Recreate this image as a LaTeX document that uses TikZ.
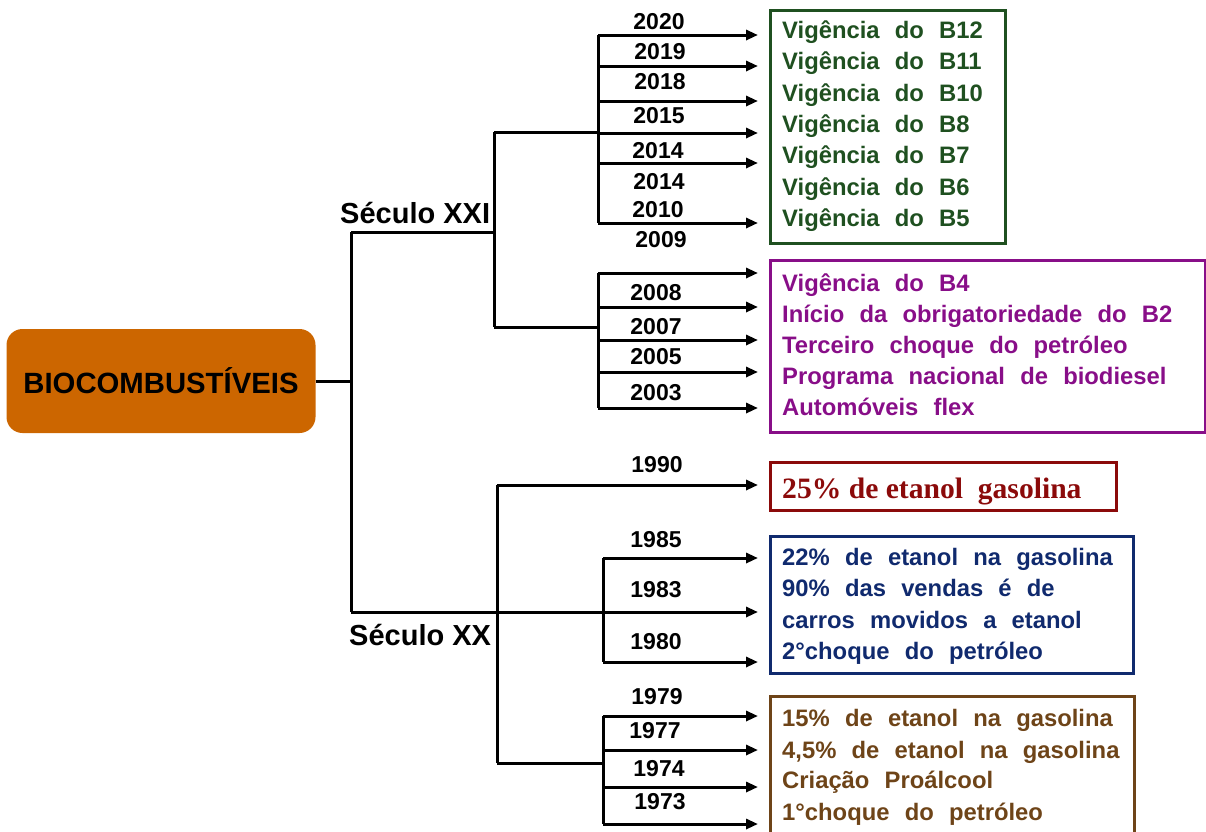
\documentclass[tikz,border=0pt]{standalone}
\usepackage{fontspec}
\setmainfont{Liberation Sans}
\newfontfamily\boxfont[WordSpace=2.3]{Liberation Sans}
\newfontfamily\serifbox{Liberation Serif}
\usetikzlibrary{arrows.meta}
\definecolor{rootfill}{HTML}{CC6600}
\definecolor{grn}{HTML}{1F5020}
\definecolor{prp}{HTML}{880E88}
\definecolor{dred}{HTML}{8B0A0A}
\definecolor{navy}{HTML}{102A6E}
\definecolor{brn}{HTML}{6E4418}
\begin{document}
\begin{tikzpicture}[x=1pt,y=-1pt,
  line/.style={line width=3pt},
  arr/.style={line width=3pt,-{Triangle[length=12pt,width=10pt]}},
  year/.style={font=\bfseries\fontsize{23}{23}\selectfont, inner sep=0pt},
  century/.style={font=\bfseries\fontsize{29}{29}\selectfont, inner sep=0pt, anchor=base west},
  frame/.style={draw, line width=2.5pt, anchor=north west, inner sep=0pt},
  txt/.style={font=\boxfont\bfseries\fontsize{23.8}{23.8}\selectfont, inner sep=0pt, anchor=base west}]
\useasboundingbox (0,0) rectangle (1206,831);

% root
\node[fill=rootfill, rounded corners=16pt, minimum width=309pt, minimum height=104pt, inner sep=0pt,
      font=\bfseries\fontsize{29.3}{29.3}\selectfont] (root) at (161,381) {BIOCOMBUSTÍVEIS};

% century labels
\node[century] (s21) at (340,223) {Século XXI};
\node[century] (s20) at (349,645) {Século XX};

% trunk coordinates
\coordinate (j) at (351,381);
\coordinate (t1) at (351,232);
\coordinate (t2) at (351,612);
\coordinate (a1) at (494,232);
\coordinate (a2) at (494,132);
\coordinate (a3) at (494,327);
\coordinate (gv) at (598,132);
\coordinate (pv) at (598,327);
\coordinate (b1) at (497,612);
\coordinate (b2) at (497,485);
\coordinate (b3) at (497,763);
\coordinate (bv) at (603,612);
\coordinate (brv) at (603,763);

\draw[line] (root) -- (j);
\draw[line] (t1) -- (t2);
\draw[line] (t1) -- (a1);
\draw[line] (a2) -- (a3);
\draw[line] (a2) -- (gv);
\draw[line] (a3) -- (pv);
\draw[line] (t2) -- (b1);
\draw[line] (b2) -- (b3);
\draw[line] (b3) -- (brv);

% green group
\coordinate (gtop) at (598,35);
\coordinate (gbot) at (598,223);
\draw[line] (gtop) -- (gbot);
\foreach \y [count=\i] in {35,66,101,133,163,223}{
  \coordinate (gs\i) at (598,\y);
  \coordinate (ge\i) at (758,\y);
  \draw[arr] (gs\i) -- (ge\i);
}
\foreach \t/\x/\y [count=\i] in {2020/659/21.5,2019/660/51.5,2018/660/82,2015/659/116,2014/658/150.5,2014/659/182,2010/658/210,2009/661/240}{
  \node[year] (gy\i) at (\x,\y) {\t};
}
\node[frame, draw=grn, minimum width=235pt, minimum height=233pt] (gbox) at (769,9) {};
\foreach \t/\y [count=\i] in {B12/38.5,B11/69.8,B10/101.1,B8/132.4,B7/163.7,B6/195,B5/226.3}{
  \node[txt, text=grn] (gt\i) at (782,\y) {Vigência do \t};
}

% purple group
\coordinate (ptop) at (598,273);
\coordinate (pbot) at (598,408);
\draw[line] (ptop) -- (pbot);
\foreach \y [count=\i] in {273,307,340,372,408}{
  \coordinate (ps\i) at (598,\y);
  \coordinate (pe\i) at (758,\y);
  \draw[arr] (ps\i) -- (pe\i);
}
\foreach \t/\y [count=\i] in {2008/293,2007/327,2005/357,2003/393}{
  \node[year] (py\i) at (656,\y) {\t};
}
\node[frame, draw=prp, minimum width=435pt, minimum height=172pt] (pbox) at (769,259) {};
\foreach \t/\y [count=\i] in {Vigência do B4/291,Início da obrigatoriedade do B2/322,Terceiro choque do petróleo/353,Programa nacional de biodiesel/384,Automóveis flex/415}{
  \node[txt, text=prp] (pt\i) at (782,\y) {\t};
}

% 1990
\coordinate (re) at (758,485);
\draw[arr] (b2) -- (re);
\node[year] (ry) at (657,465) {1990};
\node[frame, draw=dred, minimum width=346pt, minimum height=48pt] (rbox) at (769,461) {};
\node[font=\serifbox\bfseries\fontsize{29.6}{29.6}\selectfont, text=dred, inner sep=0pt, anchor=base west] (rt) at (782,498) {25\% de etanol\ \ gasolina};

% blue group
\coordinate (btop) at (603,558);
\coordinate (bbot) at (603,662);
\draw[line] (btop) -- (bbot);
\coordinate (be2) at (758,612);
\draw[arr] (b1) -- (be2);
\foreach \y [count=\i] in {558,662}{
  \coordinate (bs\i) at (603,\y);
  \coordinate (bf\i) at (758,\y);
  \draw[arr] (bs\i) -- (bf\i);
}
\foreach \t/\y [count=\i] in {1985/540,1983/590,1980/642}{
  \node[year] (by\i) at (656,\y) {\t};
}
\node[frame, draw=navy, minimum width=363pt, minimum height=137pt] (bbox) at (769,535) {};
\foreach \t/\y [count=\i] in {22\% de etanol na gasolina/565,90\% das vendas é de/596,carros movidos a etanol/628,2°choque do petróleo/659}{
  \node[txt, text=navy] (bt\i) at (782,\y) {\t};
}

% brown group
\coordinate (wtop) at (603,716);
\coordinate (wbot) at (603,824);
\draw[line] (wtop) -- (wbot);
\foreach \y [count=\i] in {716,750,787,824}{
  \coordinate (ws\i) at (603,\y);
  \coordinate (we\i) at (758,\y);
  \draw[arr] (ws\i) -- (we\i);
}
\foreach \t/\x/\y [count=\i] in {1979/657/697,1977/655/731,1974/659/769,1973/660/802}{
  \node[year] (wy\i) at (\x,\y) {\t};
}
\node[frame, draw=brn, minimum width=364pt, minimum height=142pt] (wbox) at (769,695) {};
\foreach \t/\y [count=\i] in {15\% de etanol na gasolina/726,{4,5\% de etanol na gasolina}/758,Criação Proálcool/788,1°choque do petróleo/820}{
  \node[txt, text=brn] (wt\i) at (782,\y) {\t};
}
\end{tikzpicture}
\end{document}
